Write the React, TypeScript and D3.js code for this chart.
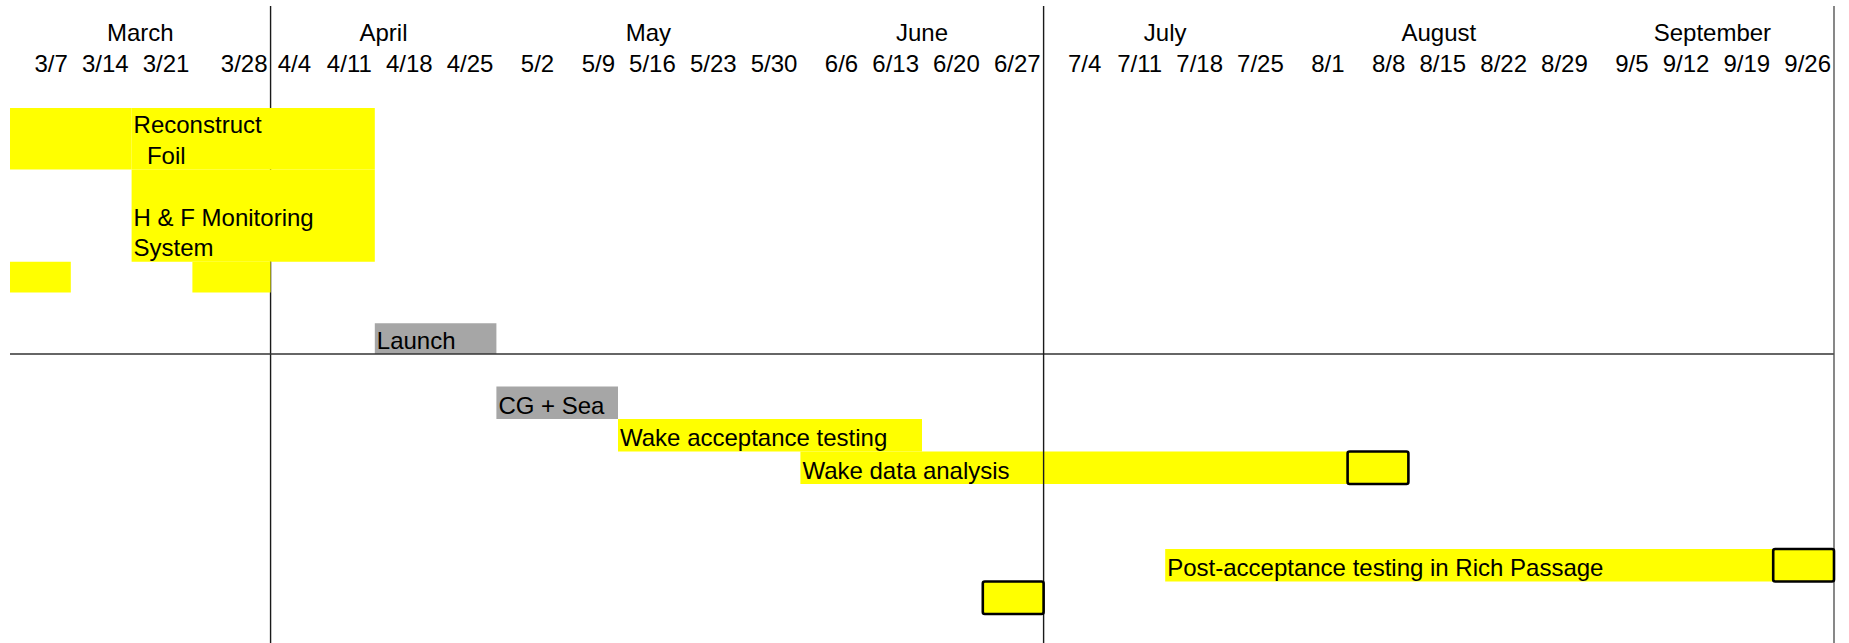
import React, { useEffect, useRef } from 'react';
import * as d3 from 'd3';

const YEAR = 2011;
const W = 1849, H = 643;
const YELLOW = '#ffff00', GRAY = '#a6a6a6', INK = '#1a1a1a';
const FONT = '"Liberation Sans", Arial, Helvetica, sans-serif';

// timescale header
const months = ['March', 'April', 'May', 'June', 'July', 'August', 'September'];
const weekTicks = ['3/7', '3/14', '3/21', '3/28', '4/4', '4/11', '4/18', '4/25', '5/2', '5/9', '5/16', '5/23', '5/30',
  '6/6', '6/13', '6/20', '6/27', '7/4', '7/11', '7/18', '7/25', '8/1', '8/8', '8/15', '8/22', '8/29',
  '9/5', '9/12', '9/19', '9/26'];
const timelineEnd = '10/3';

// quarter dividers
const dividers = ['4/6', '7/4', '10/3'];

// gantt bars (row = schedule row, rows = rows covered)
const workBars = [
  { label: [], start: '3/7', end: '3/21', row: 0, rows: 2 },
  { label: ['Reconstruct', '\u00a0\u00a0Foil'], start: '3/21', end: '4/18', row: 0, rows: 2 },
  { label: ['H & F Monitoring', 'System'], start: '3/21', end: '4/18', row: 2, rows: 3, textRow: 3 },
  { label: [], start: '3/7', end: '3/14', row: 5, rows: 1 },
  { label: [], start: '3/28', end: '4/6', row: 5, rows: 1 },
  { label: ['Wake acceptance testing'], start: '5/16', end: '6/20', row: 10, rows: 1 },
  { label: ['Wake data analysis'], start: '6/6', end: '8/8', row: 11, rows: 1 },
  { label: ['Post-acceptance testing in Rich Passage'], start: '7/18', end: '9/26', row: 14, rows: 1 },
];
const seaBars = [
  { label: ['Launch'], start: '4/18', end: '5/2', row: 7, rows: 1 },
  { label: ['CG + Sea'], start: '5/2', end: '5/16', row: 9, rows: 1 },
];
// one-week review boxes
const milestones = [
  { start: '8/8', row: 11 },
  { start: '9/26', row: 14 },
  { start: '6/27', row: 15 },
];

const parse = (s: string) => {
  const [m, d] = s.split('/').map(Number);
  return new Date(Date.UTC(YEAR, m - 1, d));
};

export default function App() {
  const ref = useRef<SVGSVGElement>(null);
  useEffect(() => {
    document.body.style.margin = '0';
    const svg = d3.select(ref.current);
    svg.selectAll('*').remove();

    const x = d3.scaleUtc().domain([parse(weekTicks[0]), parse(timelineEnd)]).range([10, 1834]);
    const y = d3.scaleLinear().domain([0, 8, 16]).range([108, 354, 614]);
    const wk = (d: Date) => d3.utcDay.offset(d, 7);
    const divDates = dividers.map(parse);
    // a header boundary is pushed onto a divider that falls inside the following week
    const snap = (d: Date) => divDates.find(v => v >= d && v < wk(d)) ?? d;

    const txt = (g: any, s: string, px: number, py: number, anchor = 'start') =>
      g.append('text').text(s).attr('x', px).attr('y', py).attr('text-anchor', anchor)
        .attr('font-family', FONT).attr('font-size', 24).attr('fill', '#000');

    // header
    const head = svg.append('g');
    weekTicks.forEach(t => txt(head, t, x(snap(wk(parse(t)))) - 3, 71.7, 'end'));
    months.forEach((m, i) => {
      const inMonth = weekTicks.map(parse).filter(d => d.getUTCMonth() === i + 2);
      const left = i === 0 ? inMonth[0] : snap(inMonth[0]);
      const cx = (x(left) + x(snap(wk(inMonth[inMonth.length - 1])))) / 2;
      txt(head, m, cx, 40.5, 'middle');
    });

    const vline = (g: any, d: string, color: string) =>
      g.append('line').attr('x1', x(parse(d))).attr('x2', x(parse(d))).attr('y1', 6).attr('y2', H)
        .attr('stroke', color).attr('stroke-width', 1.4);

    // first divider sits underneath the bars
    vline(svg.append('g'), dividers[0], INK);

    const bars = svg.append('g');
    const drawBar = (b: any, fill: string) => {
      const x0 = x(parse(b.start)), x1 = x(parse(b.end));
      bars.append('rect').attr('x', x0).attr('y', y(b.row)).attr('width', x1 - x0)
        .attr('height', y(b.row + b.rows) - y(b.row)).attr('fill', fill);
    };
    workBars.forEach(b => drawBar(b, YELLOW));
    seaBars.forEach(b => drawBar(b, GRAY));
    [...workBars, ...seaBars].forEach((b: any) => {
      const r0 = b.textRow ?? b.row;
      b.label.forEach((l: string, i: number) => txt(bars, l, x(parse(b.start)) + 2, y(r0 + i + 1) - 5.5));
    });

    // remaining grid lines above the bars
    const grid = svg.append('g');
    grid.append('line').attr('x1', x(parse(weekTicks[0]))).attr('x2', x(parse(timelineEnd)))
      .attr('y1', y(8)).attr('y2', y(8)).attr('stroke', '#333').attr('stroke-width', 1.4);
    dividers.slice(1).forEach((d, i) => vline(grid, d, i === dividers.length - 2 ? '#555' : INK));

    const ms = svg.append('g');
    milestones.forEach(m => {
      const s = parse(m.start);
      ms.append('rect').attr('x', x(s)).attr('y', y(m.row)).attr('width', x(wk(s)) - x(s))
        .attr('height', y(m.row + 1) - y(m.row)).attr('rx', 2)
        .attr('fill', YELLOW).attr('stroke', '#000').attr('stroke-width', 2.6);
    });
  }, []);

  return (
    <svg ref={ref} width={W} height={H}
      style={{ position: 'absolute', left: 0, top: 0, background: '#fff', display: 'block' }} />
  );
}
